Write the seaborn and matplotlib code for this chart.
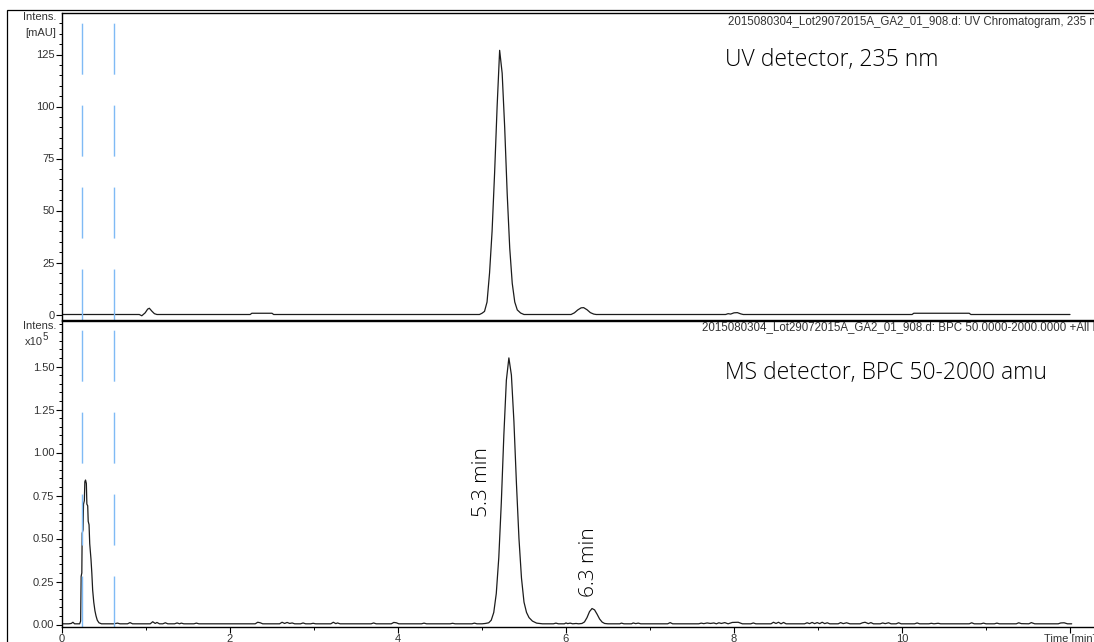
import matplotlib
matplotlib.use("Agg")
import matplotlib.pyplot as plt
import seaborn as sns
import pandas as pd
from matplotlib.ticker import MultipleLocator, FixedLocator, FixedFormatter
from matplotlib.patches import Rectangle

# ---------------- UV chromatogram, 235 nm (mAU) ----------------
uv_time = [0.00, 0.92, 0.95, 0.99, 1.02, 1.04, 1.07, 1.10, 1.13,
           2.24, 2.26, 2.50, 2.52,
           4.97, 5.00, 5.03, 5.06, 5.09, 5.12, 5.15, 5.18, 5.21, 5.24,
           5.27, 5.30, 5.33, 5.36, 5.39, 5.42, 5.46, 5.50,
           6.06, 6.10, 6.14, 6.18, 6.21, 6.25, 6.29, 6.33, 6.36,
           7.90, 7.93, 7.96, 8.00, 8.04, 8.08, 8.11,
           10.12, 10.14, 10.80, 10.82, 12.00]
uv_signal = [0.0, 0.0, -0.6, 0.8, 2.6, 3.0, 1.6, 0.4, 0.0,
             0.0, 0.6, 0.6, 0.0,
             0.0, 0.6, 1.5, 6.0, 20.0, 40.0, 68.0, 100.0, 127.0, 116.0,
             90.0, 58.0, 32.0, 15.0, 6.0, 2.2, 0.7, 0.0,
             0.0, 0.8, 2.2, 3.2, 3.3, 2.3, 0.9, 0.2, 0.0,
             0.0, 0.4, 0.2, 0.8, 0.9, 0.3, 0.0,
             0.0, 0.6, 0.6, 0.0, 0.0]

# ---------------- MS base peak chromatogram (x10^5 counts) ----------------
ms_front_time = [0.00, 0.08, 0.11, 0.13, 0.15, 0.21, 0.222, 0.228, 0.236, 0.240,
                 0.250, 0.256, 0.266, 0.272, 0.280, 0.290, 0.296, 0.306, 0.312,
                 0.322, 0.330, 0.345, 0.355, 0.365, 0.378, 0.392, 0.405, 0.42,
                 0.44, 0.47]
ms_front_signal = [0.004, 0.004, 0.006, 0.013, 0.004, 0.004, 0.02, 0.28, 0.30, 0.53,
                   0.55, 0.70, 0.72, 0.83, 0.84, 0.82, 0.70, 0.69, 0.60,
                   0.58, 0.47, 0.38, 0.30, 0.20, 0.13, 0.08, 0.05, 0.025,
                   0.01, 0.004]

ms_early_time = [0.55, 0.62, 0.66, 0.69, 0.78, 0.81, 0.84, 1.05, 1.08, 1.11,
                 1.13, 1.16, 1.20, 1.23, 1.26, 1.34, 1.37, 1.40, 1.42, 1.45,
                 1.57, 1.60, 1.63, 2.30, 2.33, 2.36, 2.39, 2.59, 2.62, 2.65,
                 2.68, 2.71, 2.74, 2.77, 2.84, 2.87, 2.90, 2.96, 2.99, 3.02,
                 3.20, 3.23, 3.26, 3.28, 3.31, 3.68, 3.71, 3.74, 3.92, 3.95,
                 3.98, 4.01, 4.28, 4.31, 4.34, 4.62, 4.65, 4.68, 4.88, 4.91,
                 4.94, 5.00]
ms_early_signal = [0.004, 0.004, 0.008, 0.004, 0.004, 0.011, 0.004, 0.004, 0.016, 0.006,
                   0.012, 0.004, 0.004, 0.010, 0.004, 0.004, 0.009, 0.004, 0.008, 0.004,
                   0.004, 0.008, 0.004, 0.004, 0.013, 0.010, 0.004, 0.004, 0.013, 0.006,
                   0.012, 0.006, 0.009, 0.004, 0.004, 0.009, 0.004, 0.004, 0.007, 0.004,
                   0.004, 0.013, 0.005, 0.009, 0.004, 0.004, 0.009, 0.004, 0.004, 0.012,
                   0.010, 0.004, 0.004, 0.008, 0.004, 0.004, 0.007, 0.004, 0.004, 0.008,
                   0.004, 0.004]

ms_main_time = [5.04, 5.08, 5.11, 5.14, 5.17, 5.20, 5.23, 5.26, 5.29, 5.32,
                5.35, 5.38, 5.41, 5.44, 5.47, 5.50, 5.53, 5.56, 5.60, 5.65,
                5.72]
ms_main_signal = [0.006, 0.010, 0.025, 0.07, 0.18, 0.39, 0.71, 1.10, 1.42, 1.55,
                  1.45, 1.18, 0.82, 0.50, 0.27, 0.13, 0.07, 0.04, 0.02, 0.008,
                  0.004]

ms_minor_time = [5.85, 5.88, 5.91, 5.98, 6.00, 6.02, 6.05, 6.08, 6.12, 6.15,
                 6.19, 6.22, 6.25, 6.28, 6.31, 6.34, 6.37, 6.40, 6.43, 6.46,
                 6.50]
ms_minor_signal = [0.004, 0.008, 0.004, 0.004, 0.009, 0.005, 0.008, 0.004, 0.006, 0.004,
                   0.006, 0.015, 0.04, 0.075, 0.093, 0.085, 0.06, 0.032, 0.014, 0.006,
                   0.004]

ms_late_time = [6.64, 6.66, 6.69, 6.78, 6.80, 6.83, 6.86, 6.89, 7.21, 7.24,
                7.27, 7.58, 7.61, 7.64, 7.68, 7.72, 7.76, 7.79, 7.82, 7.85,
                7.89, 7.93, 7.98, 8.05, 8.10, 8.20, 8.23, 8.26, 8.44, 8.47,
                8.50, 8.53, 8.56, 8.59, 8.62, 8.84, 8.87, 8.90, 8.93, 8.96,
                8.99, 9.02, 9.05, 9.08, 9.11, 9.14, 9.24, 9.27, 9.30, 9.34,
                9.38, 9.50, 9.53, 9.56, 9.60, 9.63, 9.66, 9.74, 9.77, 9.80,
                9.84, 9.87, 9.93, 9.96, 9.99, 10.15, 10.18, 10.21, 10.32, 10.35,
                10.38, 10.43, 10.46, 10.80, 10.83, 10.86, 10.94, 10.97, 11.00, 11.10,
                11.13, 11.16, 11.36, 11.39, 11.42, 11.51, 11.54, 11.58, 11.86, 11.89,
                11.93, 11.97, 12.02]
ms_late_signal = [0.004, 0.008, 0.004, 0.004, 0.009, 0.005, 0.008, 0.004, 0.004, 0.011,
                  0.004, 0.004, 0.008, 0.005, 0.009, 0.006, 0.009, 0.004, 0.010, 0.006,
                  0.011, 0.004, 0.012, 0.013, 0.004, 0.004, 0.009, 0.004, 0.004, 0.013,
                  0.006, 0.013, 0.004, 0.012, 0.004, 0.004, 0.010, 0.005, 0.012, 0.005,
                  0.011, 0.005, 0.013, 0.005, 0.010, 0.004, 0.004, 0.011, 0.005, 0.010,
                  0.004, 0.004, 0.010, 0.013, 0.005, 0.011, 0.004, 0.004, 0.009, 0.005,
                  0.010, 0.004, 0.004, 0.010, 0.004, 0.004, 0.009, 0.004, 0.004, 0.007,
                  0.004, 0.007, 0.004, 0.004, 0.010, 0.004, 0.004, 0.008, 0.004, 0.004,
                  0.008, 0.004, 0.004, 0.010, 0.005, 0.004, 0.011, 0.004, 0.004, 0.009,
                  0.010, 0.004, 0.004]

# integration / event markers (min)
marker_times = [0.234, 0.623]

# axis ticks
uv_ticks = [0, 25, 50, 75, 100, 125]
uv_minor = 5
ms_ticks = [0.00, 0.25, 0.50, 0.75, 1.00, 1.25, 1.50]
ms_minor = 0.05
time_ticks = [0, 2, 4, 6, 8, 10, 12]
time_labels = ["0", "2", "4", "6", "8", "10", "Time [min]"]

uv_df = pd.DataFrame({"time": uv_time, "signal": uv_signal})
ms_df = pd.DataFrame({
    "time": ms_front_time + ms_early_time + ms_main_time + ms_minor_time + ms_late_time,
    "signal": ms_front_signal + ms_early_signal + ms_main_signal + ms_minor_signal + ms_late_signal,
})

sns.set_theme(style="white")
plt.rcParams["font.family"] = ["Liberation Sans", "DejaVu Sans"]

W, H = 1094, 642
fig = plt.figure(figsize=(W / 100, H / 100), dpi=100)


def fx(px):
    return px / W


def fy(py):
    return 1 - py / H


PX_PER_MIN = 84.0
X0 = 62
XMAX = 12.6
ax_w = XMAX * PX_PER_MIN / W

ax_uv = fig.add_axes([fx(X0), fy(320), ax_w, (320 - 13) / H])
ax_ms = fig.add_axes([fx(X0), fy(627), ax_w, (627 - 321) / H])

TRACE = "#1c1c1c"
BLUE = "#7fbaf5"
LABEL = "#333333"
TICK_FS = 8

sns.lineplot(data=uv_df, x="time", y="signal", ax=ax_uv, color=TRACE,
             lw=0.9, estimator=None, sort=False)
sns.lineplot(data=ms_df, x="time", y="signal", ax=ax_ms, color=TRACE,
             lw=0.9, estimator=None, sort=False)

ax_uv.set_xlim(0, XMAX)
ax_ms.set_xlim(0, XMAX)
ax_uv.set_ylim(-(320 - 314.5) / 2.08, (314.5 - 13) / 2.08)
ax_ms.set_ylim(-(627 - 624.5) / 172.0, (624.5 - 321) / 172.0)

for ax in (ax_uv, ax_ms):
    for t in marker_times:
        ln = ax.axvline(t, ymin=0, ymax=1, color=BLUE, lw=1.0)
        ln.set_dashes((36.7, 22.3))
    ax.set_xlabel("")
    ax.set_ylabel("")
    for sp in ax.spines.values():
        sp.set_color("black")
        sp.set_linewidth(1.0)
    ax.tick_params(axis="y", which="both", left=True, direction="out",
                   color="black", labelcolor=LABEL, labelsize=TICK_FS, pad=1.5)
    ax.tick_params(axis="y", which="major", length=4, width=0.8)
    ax.tick_params(axis="y", which="minor", length=2.2, width=0.7)

ax_uv.yaxis.set_major_locator(FixedLocator(uv_ticks))
ax_uv.yaxis.set_minor_locator(MultipleLocator(uv_minor))
ax_uv.yaxis.set_major_formatter(lambda v, p: f"{v:.0f}")
ax_uv.tick_params(axis="x", which="both", bottom=False, labelbottom=False)

ax_ms.yaxis.set_major_locator(FixedLocator(ms_ticks))
ax_ms.yaxis.set_minor_locator(MultipleLocator(ms_minor))
ax_ms.yaxis.set_major_formatter(lambda v, p: f"{v:.2f}")
ax_ms.xaxis.set_major_locator(FixedLocator(time_ticks))
ax_ms.xaxis.set_major_formatter(FixedFormatter(time_labels))
ax_ms.xaxis.set_minor_locator(MultipleLocator(1))
ax_ms.tick_params(axis="x", which="both", bottom=True, direction="out",
                  color="black", labelcolor=LABEL, labelsize=TICK_FS, pad=1.0)
ax_ms.tick_params(axis="x", which="major", length=4, width=0.8)
ax_ms.tick_params(axis="x", which="minor", length=2.2, width=0.7)

# outer frame
fig.patches.append(Rectangle((fx(7), -0.02), 1.05, fy(10) + 0.02, transform=fig.transFigure,
                             fill=False, ec="black", lw=0.9))

small = dict(fontsize=TICK_FS, color=LABEL, va="center")
fig.text(fx(728), fy(22), "2015080304_Lot29072015A_GA2_01_908.d: UV Chromatogram, 235 nm",
         ha="left", fontsize=8.3, color=LABEL, va="center")
fig.text(fx(702), fy(327), "2015080304_Lot29072015A_GA2_01_908.d: BPC 50.0000-2000.0000 +All MS",
         ha="left", fontsize=8.3, color=LABEL, va="center")
fig.text(fx(56), fy(17), "Intens.", ha="right", **small)
fig.text(fx(56), fy(33), "[mAU]", ha="right", **small)
fig.text(fx(56), fy(326), "Intens.", ha="right", **small)
fig.text(fx(43), fy(342), "x10", ha="right", **small)
fig.text(fx(43), fy(337), "5", ha="left", fontsize=7, color=LABEL, va="center")

big = dict(family=["Open Sans", "DejaVu Sans"], fontweight="light", color="black")
fig.text(fx(725), fy(60), "UV detector, 235 nm", fontsize=16.5, va="center", ha="left", **big)
fig.text(fx(725), fy(373), "MS detector, BPC 50-2000 amu", fontsize=16.5, va="center", ha="left", **big)
ax_ms.text(5.0, (624.5 - 517) / 172.0, "5.3 min", rotation=90, ha="center", va="bottom",
           fontsize=15, **big)
ax_ms.text(6.27, (624.5 - 597) / 172.0, "6.3 min", rotation=90, ha="center", va="bottom",
           fontsize=15, **big)

fig.savefig("out.png", dpi=100)
